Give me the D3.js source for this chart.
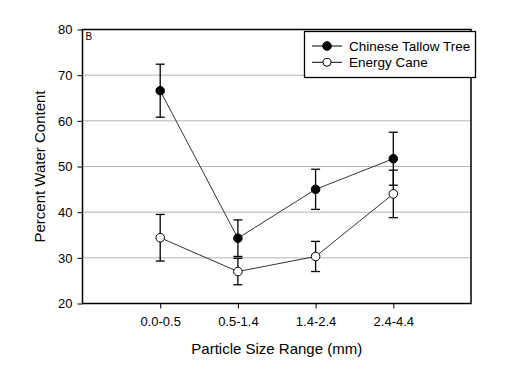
<!DOCTYPE html>
<html><head><meta charset="utf-8">
<script src="https://cdn.jsdelivr.net/npm/d3@7"></script>
<style>body{margin:0;background:#fff}svg{display:block}text{font-family:"Liberation Sans",Arial,sans-serif;fill:#000}</style>
</head><body>
<svg id="c" width="509" height="379"></svg>
<script>
const categories = ["0.0-0.5","0.5-1.4","1.4-2.4","2.4-4.4"];
const tallowMean = [66.6, 34.3, 45.0, 51.7];
const tallowErr  = [5.8, 4.0, 4.4, 5.8];
const caneMean   = [34.4, 27.0, 30.3, 44.0];
const caneErr    = [5.1, 2.9, 3.3, 5.2];
const yTicks = [20,30,40,50,60,70,80];
const seriesNames = ["Chinese Tallow Tree","Energy Cane"];

const svg = d3.select("#c");
const L=82.5, T=29.5, R=471, B=303.5;
const x = d3.scaleLinear().domain([0,5]).range([L,R]);
const y = d3.scaleLinear().domain([20,80]).range([B,T]);

// gridlines
svg.append("g").selectAll("line").data(yTicks.filter(d=>d>20&&d<80)).join("line")
  .attr("x1",L).attr("x2",R).attr("y1",d=>y(d)).attr("y2",d=>y(d))
  .attr("stroke","#b4b4b4").attr("stroke-width",1);

// y axis
const ya = svg.append("g").attr("transform",`translate(${L},0)`)
  .call(d3.axisLeft(y).tickValues(yTicks).tickSize(5).tickPadding(5));
ya.select(".domain").remove();
ya.selectAll("text").style("font-size","13px");
// x axis
const xa = svg.append("g").attr("transform",`translate(0,${B})`)
  .call(d3.axisBottom(x).tickValues([1,2,3,4]).tickSize(5).tickPadding(8).tickFormat(d=>categories[d-1]));
xa.select(".domain").remove();
xa.selectAll("text").style("font-size","13px");

// frame
svg.append("rect").attr("x",L).attr("y",T).attr("width",R-L).attr("height",B-T)
  .attr("fill","none").attr("stroke","#000").attr("stroke-width",1.5);

svg.append("text").attr("x",L+3).attr("y",T+10).style("font-size","10px").text("B");

const series = [
  {name:seriesNames[0], mean:tallowMean, err:tallowErr, fill:"#000"},
  {name:seriesNames[1], mean:caneMean, err:caneErr, fill:"#fff"}
];
const line = d3.line().x((d,i)=>x(i+1)).y(d=>y(d));
series.forEach(s=>{
  svg.append("path").attr("d",line(s.mean)).attr("fill","none").attr("stroke","#333").attr("stroke-width",1);
  const g = svg.append("g");
  s.mean.forEach((m,i)=>{
    const cx=x(i+1), hi=y(m+s.err[i]), lo=y(m-s.err[i]);
    g.append("line").attr("x1",cx).attr("x2",cx).attr("y1",hi).attr("y2",lo).attr("stroke","#000").attr("stroke-width",1.3);
    [hi,lo].forEach(yy=>g.append("line").attr("x1",cx-4.5).attr("x2",cx+4.5).attr("y1",yy).attr("y2",yy).attr("stroke","#000").attr("stroke-width",1.3));
  });
  g.selectAll("circle").data(s.mean).join("circle")
    .attr("cx",(d,i)=>x(i+1)).attr("cy",d=>y(d)).attr("r",4.3)
    .attr("fill",s.fill).attr("stroke","#000").attr("stroke-width",1);
});

// legend
const lg = svg.append("g");
lg.append("rect").attr("x",304.5).attr("y",31.5).attr("width",171).attr("height",46)
  .attr("fill","#fff").attr("stroke","#000").attr("stroke-width",1.3);
series.forEach((s,i)=>{
  const yy = 46 + i*16.3;
  lg.append("line").attr("x1",312).attr("x2",342).attr("y1",yy).attr("y2",yy).attr("stroke","#000").attr("stroke-width",1);
  lg.append("circle").attr("cx",327).attr("cy",yy).attr("r",i===0?4.3:4).attr("fill",s.fill).attr("stroke","#000");
  lg.append("text").attr("x",349).attr("y",yy+4.7).style("font-size","13.5px").text(s.name);
});

// axis titles
svg.append("text").attr("x",(L+R)/2).attr("y",354).attr("text-anchor","middle").style("font-size","15px").text("Particle Size Range (mm)");
svg.append("text").attr("transform",`translate(45,${(T+B)/2}) rotate(-90)`).attr("text-anchor","middle").style("font-size","15px").text("Percent Water Content");
</script>
</body></html>
